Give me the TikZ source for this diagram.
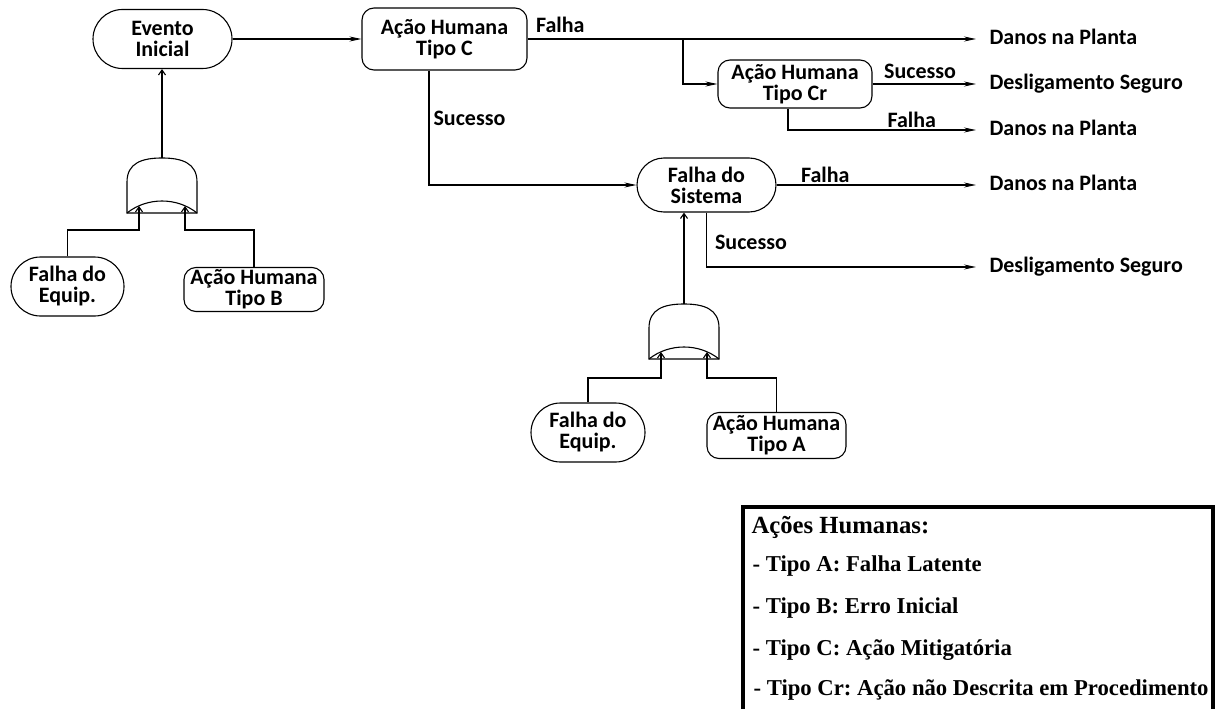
\documentclass[tikz,border=0pt]{standalone}
\usepackage{fontspec}
\setmainfont{Carlito}
\newfontfamily\legendfont{Liberation Serif}
\usetikzlibrary{arrows.meta,shapes.misc,calc}
\frenchspacing

% OR-gate symbol; origin at the middle of the flat bottom
\tikzset{pics/orgate/.style={code={
  \draw (-35,0) -- (-35,-31) .. controls (-35,-50) and (-20,-55) .. (0,-55)
        .. controls (20,-55) and (35,-50) .. (35,-31) -- (35,0) -- cycle;
  \draw (-35,0) .. controls (-15,-16) and (15,-16) .. (35,0);
  \coordinate (-top) at (0,-55);
  \coordinate (-a) at (-23,-7);
  \coordinate (-b) at (23,-7);
}}}

\begin{document}
\begin{tikzpicture}[x=1pt,y=-1pt,
  line width=1.1pt,
  every node/.style={font=\bfseries\fontsize{22}{21}\selectfont},
  stad/.style={draw, rounded rectangle, align=center, inner sep=0pt},
  rbox/.style={draw, rectangle, rounded corners=12pt, align=center, inner sep=0pt},
  term/.style={anchor=west, inner sep=0pt, text height=15.5pt, text depth=4.5pt},
  lab/.style={inner sep=0pt, anchor=base west},
  arr/.style={-{Stealth[length=12pt,width=5pt]}},
  toterm/.style={arr, shorten >=13pt},
  inarr/.style={-{Straight Barb[length=5pt,width=7pt]}},
  legtext/.style={inner sep=0pt, anchor=base west, font=\legendfont\bfseries\fontsize{22.7}{25}\selectfont}
]
\useasboundingbox (0,0) rectangle (1219,709);

% events and actions
\node[stad, minimum width=139pt, minimum height=59pt] (ev) at (162.5,39) {Evento\\Inicial};
\node[rbox, minimum width=165pt, minimum height=62pt] (c) at (444.5,39) {Ação Humana\\Tipo C};
\node[rbox, minimum width=154pt, minimum height=48pt] (cr) at (795,84) {Ação Humana\\Tipo Cr};
\node[stad, minimum width=139pt, minimum height=54pt] (sys) at (706.5,185) {Falha do\\Sistema};
\node[stad, minimum width=113pt, minimum height=59pt] (fe1) at (67.5,286.5) {Falha do\\Equip.};
\node[rbox, minimum width=140pt, minimum height=44pt] (hb) at (254,289.5) {Ação Humana\\Tipo B};
\node[stad, minimum width=114pt, minimum height=59pt] (fe2) at (588,432.5) {Falha do\\Equip.};
\node[rbox, minimum width=139pt, minimum height=46pt] (ha) at (776.5,435.5) {Ação Humana\\Tipo A};

% end states
\node[term] (t1) at (989,39) {Danos na Planta};
\node[term] (t2) at (989,84) {Desligamento Seguro};
\node[term] (t3) at (989,130) {Danos na Planta};
\node[term] (t4) at (989,185) {Danos na Planta};
\node[term] (t5) at (989,267) {Desligamento Seguro};

% gates
\pic (g1) at (162,213) {orgate};
\pic (g2) at (684,359) {orgate};

% event tree branches
\draw[arr] (ev.east) -- (c.west);
\draw[toterm] (c.east) -- node[lab, pos=0, xshift=8pt, yshift=6pt] {Falha} (t1.west);
\coordinate (b1) at (683,39);
\draw[arr] (b1) |- (cr.west);
\draw[toterm] (cr.east) -- node[lab, pos=0, xshift=11pt, yshift=5pt] {Sucesso} (t2.west);
\draw[toterm] ([xshift=-7pt]cr.south) |- node[lab, pos=0.5, xshift=99pt, yshift=3pt] {Falha} (t3.west);
\draw[arr] ([xshift=-15.5pt]c.south) |- node[lab, pos=0.24, xshift=4pt] {Sucesso} (sys.west);
\draw[toterm] (sys.east) -- node[lab, pos=0, xshift=24pt, yshift=3pt] {Falha} (t4.west);
\draw[toterm] (sys.south) |- node[lab, pos=0.336, xshift=8pt] {Sucesso} (t5.west);

% fault tree inputs
\draw[inarr] (g1-top) -- (g1-top |- ev.south);
\coordinate (j1) at (0,230);
\draw[inarr] (fe1.north) |- (j1 -| g1-a) -- (g1-a);
\draw[inarr] (hb.north) |- (j1 -| g1-b) -- (g1-b);

\draw[inarr] (g2-top) -- (g2-top |- sys.south);
\coordinate (j2) at (0,378);
\draw[inarr] (fe2.north) |- (j2 -| g2-a) -- (g2-a);
\draw[inarr] (ha.north) |- (j2 -| g2-b) -- (g2-b);

% legend
\draw[line width=4pt] (743,715) -- (743,507) -- (1213,507) -- (1213,715);
\node[legtext, font=\legendfont\bfseries\fontsize{24.7}{27}\selectfont] (lh) at (751,533) {Ações Humanas:};
\node[legtext] (la) at (752,571) {- Tipo A: Falha Latente};
\node[legtext] (lb) at (752,613) {- Tipo B: Erro Inicial};
\node[legtext] (lc) at (752,655) {- Tipo C: Ação Mitigatória};
\node[legtext] (lcr) at (753,695) {- Tipo Cr: Ação não Descrita em Procedimento};
\end{tikzpicture}
\end{document}
